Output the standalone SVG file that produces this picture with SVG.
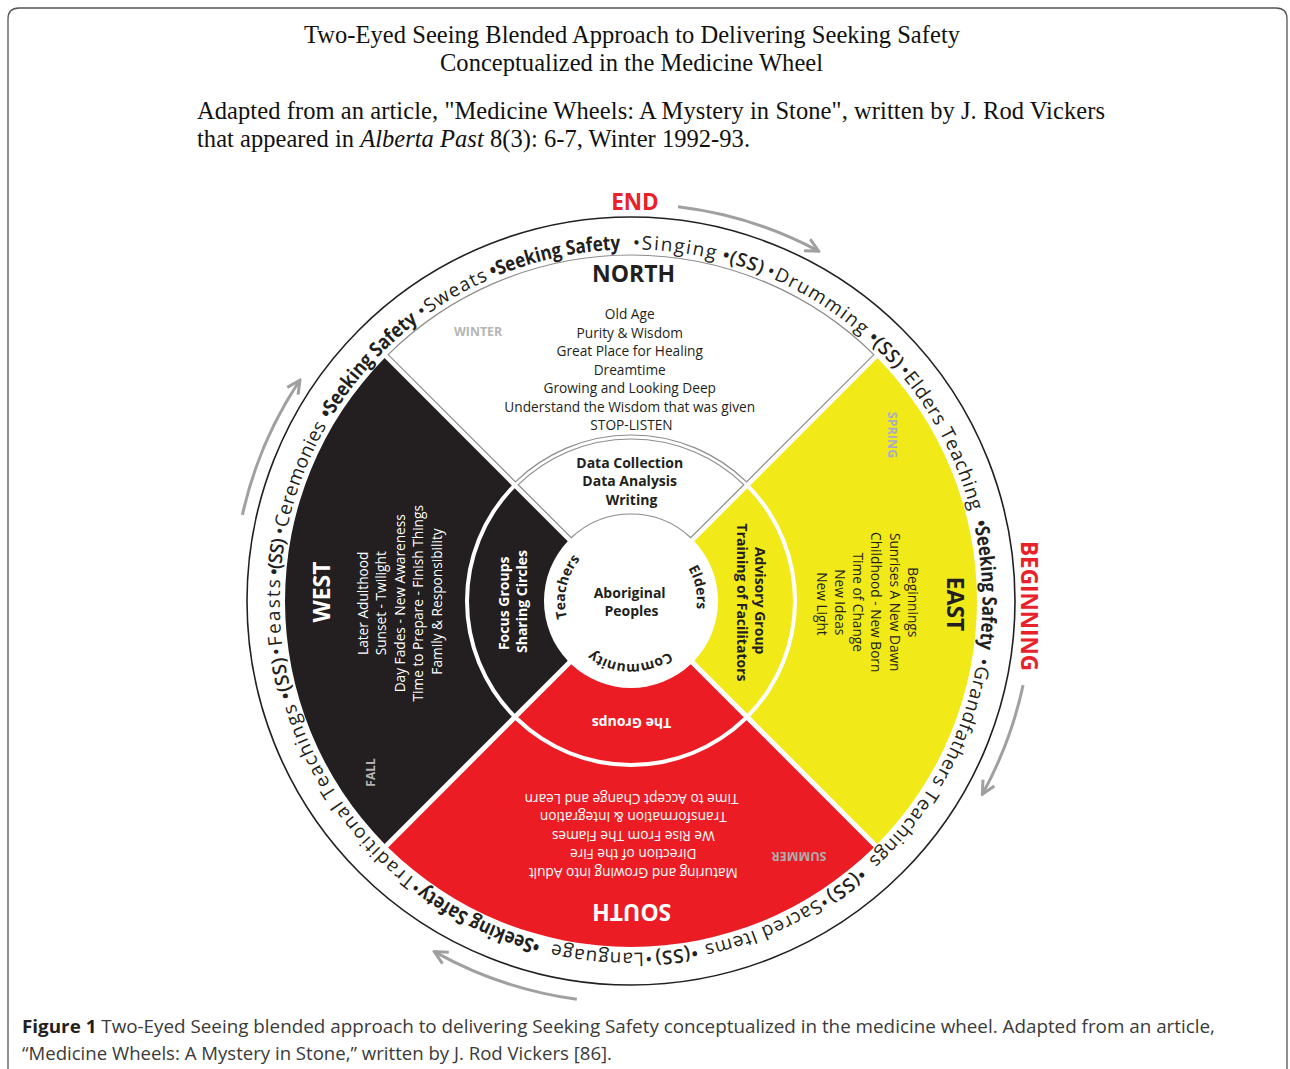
<svg xmlns="http://www.w3.org/2000/svg" width="1290" height="1069" viewBox="0 0 1290 1069">
<style>
.serif{font-family:"Liberation Serif","Times New Roman",serif;font-size:24.5px;fill:#111}
.sans{font-family:"Open Sans","Noto Sans",sans-serif}
.ring{font-family:"Open Sans","Noto Sans",sans-serif;font-size:19px;fill:#231f20}
.rb{font-weight:700;font-size:20px}
.ss{font-weight:600}
.q{font-family:"Open Sans","Noto Sans",sans-serif;font-size:13.7px;text-anchor:middle}
.qt{font-family:"Open Sans","Noto Sans",sans-serif;font-size:23px;font-weight:700;text-anchor:middle}
.mid{font-family:"Open Sans","Noto Sans",sans-serif;font-size:14px;font-weight:700;text-anchor:middle}
.season{font-family:"Open Sans","Noto Sans",sans-serif;font-size:13px;font-weight:700;text-anchor:middle}
.gl{stroke:#8c8c8c;stroke-width:1.2}
.arr{fill:none;stroke:#a0a0a0;stroke-width:3}
.red{font-family:"Open Sans","Noto Sans",sans-serif;font-size:22.5px;font-weight:700;fill:#e8222a;text-anchor:middle}
</style>
<defs>
<marker id="ah" viewBox="0 0 16 16" refX="14" refY="8" markerWidth="16" markerHeight="16" markerUnits="userSpaceOnUse" orient="auto">
<path d="M1 1.5 L14 8 L1 14.5" fill="none" stroke="#a0a0a0" stroke-width="3"/>
</marker>
<path id="rp" d="M 455 905.84 A 352 352 0 0 1 807 296.16 A 352 352 0 0 1 455 905.84 A 352 352 0 0 1 807 296.16" fill="none"/>
<path id="ip" d="M 697 601 A 66 66 0 0 1 565 601 A 66 66 0 0 1 697 601 A 66 66 0 0 1 565 601" fill="none"/>
<path id="cp" d="M 694 601 A 63 63 0 0 1 568 601 A 63 63 0 0 1 694 601" fill="none"/>
</defs>
<rect width="1290" height="1069" fill="#fff"/>
<g id="frame">
<path d="M 8 1075 V 19 Q 8 8 19 8 H 1276 Q 1287 8 1287 19 V 1075" fill="none" stroke="#555" stroke-width="1.3"/>
</g>
<g id="title">
<text class="serif" x="632" y="43" text-anchor="middle" textLength="656" lengthAdjust="spacing">Two-Eyed Seeing Blended Approach to Delivering Seeking Safety</text>
<text class="serif" x="631.5" y="71" text-anchor="middle" textLength="383" lengthAdjust="spacing">Conceptualized in the Medicine Wheel</text>
<text class="serif" x="197" y="119" textLength="908" lengthAdjust="spacing">Adapted from an article, "Medicine Wheels: A Mystery in Stone", written by J. Rod Vickers</text>
<text class="serif" x="197" y="147" textLength="553" lengthAdjust="spacing">that appeared in <tspan font-style="italic">Alberta Past</tspan> 8(3): 6-7, Winter 1992-93.</text>
</g>
<g id="ring">
<circle cx="631" cy="601" r="384" fill="#fff" stroke="#231f20" stroke-width="1.6"/>
<text class="ring"><textPath href="#rp" startOffset="38.7" textLength="225.5" lengthAdjust="spacing">•Traditional Teachings</textPath></text>
<text class="ring ss"><textPath href="#rp" startOffset="270.3" textLength="41.8" lengthAdjust="spacing">•(SS)</textPath></text>
<text class="ring"><textPath href="#rp" startOffset="314.6" textLength="75" lengthAdjust="spacing">•Feasts</textPath></text>
<text class="ring ss"><textPath href="#rp" startOffset="393.2" textLength="36.9" lengthAdjust="spacing">•(SS)</textPath></text>
<text class="ring"><textPath href="#rp" startOffset="433.7" textLength="118" lengthAdjust="spacing">•Ceremonies</textPath></text>
<text class="ring rb"><textPath href="#rp" startOffset="558.5" textLength="132.7" lengthAdjust="spacingAndGlyphs">•Seeking Safety</textPath></text>
<text class="ring"><textPath href="#rp" startOffset="696.7" textLength="76.2" lengthAdjust="spacing">•Sweats</textPath></text>
<text class="ring rb"><textPath href="#rp" startOffset="777.8" textLength="131.5" lengthAdjust="spacingAndGlyphs">•Seeking Safety</textPath></text>
<text class="ring"><textPath href="#rp" startOffset="921.5" textLength="82.9" lengthAdjust="spacing">•Singing</textPath></text>
<text class="ring ss"><textPath href="#rp" startOffset="1010.6" textLength="42.4" lengthAdjust="spacing">•(SS)</textPath></text>
<text class="ring"><textPath href="#rp" startOffset="1057.3" textLength="114.3" lengthAdjust="spacing">•Drumming</textPath></text>
<text class="ring ss"><textPath href="#rp" startOffset="1177.7" textLength="41.8" lengthAdjust="spacing">•(SS)</textPath></text>
<text class="ring"><textPath href="#rp" startOffset="1222.6" textLength="158.5" lengthAdjust="spacing">•Elders Teaching</textPath></text>
<text class="ring rb"><textPath href="#rp" startOffset="1392.1" textLength="127.8" lengthAdjust="spacingAndGlyphs">•Seeking Safety</textPath></text>
<text class="ring"><textPath href="#rp" startOffset="1528.5" textLength="234.7" lengthAdjust="spacing">•Grandfathers Teachings</textPath></text>
<text class="ring ss"><textPath href="#rp" startOffset="1774.3" textLength="43" lengthAdjust="spacing">•(SS)</textPath></text>
<text class="ring"><textPath href="#rp" startOffset="1819.7" textLength="130.2" lengthAdjust="spacing">•Sacred Items</textPath></text>
<text class="ring ss"><textPath href="#rp" startOffset="1957.4" textLength="42.4" lengthAdjust="spacing">•(SS)</textPath></text>
<text class="ring"><textPath href="#rp" startOffset="2002.8" textLength="100.1" lengthAdjust="spacing">•Language</textPath></text>
<text class="ring rb"><textPath href="#rp" startOffset="2114.6" textLength="130.9" lengthAdjust="spacingAndGlyphs">•Seeking Safety</textPath></text>
</g>
<g id="north">
<path class="gl" fill="#fff" d="M 388.12 354.58 A 346 346 0 0 1 873.88 354.58 L 746.60 481.86 A 166 166 0 0 0 515.40 481.86 Z"/>
<path class="gl" fill="#fff" d="M 518.23 484.69 A 162 162 0 0 1 743.77 484.69 L 690.73 537.74 A 87 87 0 0 0 571.27 537.74 Z"/>
<text class="qt" x="633.5" y="281.7" fill="#231f20">NORTH</text>
<text class="q" fill="#231f20">
<tspan x="631.5" y="319">Old Age</tspan>
<tspan x="631.5" y="337.5">Purity &amp; Wisdom</tspan>
<tspan x="631.5" y="356">Great Place for Healing</tspan>
<tspan x="631.5" y="374.5">Dreamtime</tspan>
<tspan x="631.5" y="393">Growing and Looking Deep</tspan>
<tspan x="631.5" y="411.5">Understand the Wisdom that was given</tspan>
<tspan x="631.5" y="430">STOP-LISTEN</tspan>
</text>
<text class="season" x="478" y="335.5" fill="#b5b5b5" textLength="48" lengthAdjust="spacingAndGlyphs">WINTER</text>
<text class="mid" fill="#231f20">
<tspan x="631.5" y="467.5">Data Collection</tspan>
<tspan x="631.5" y="486">Data Analysis</tspan>
<tspan x="631.5" y="504.5">Writing</tspan>
</text>
</g>
<g id="east">
<path fill="#f1ea18" d="M 877.42 358.12 A 346 346 0 0 1 877.42 843.88 L 750.14 716.60 A 166 166 0 0 0 750.14 485.40 Z"/>
<path fill="#f1ea18" d="M 747.31 488.23 A 162 162 0 0 1 747.31 713.77 L 694.26 660.73 A 87 87 0 0 0 694.26 541.27 Z"/>
<text class="qt" transform="translate(946.7 604) rotate(90)" fill="#231f20">EAST</text>
<text class="q" transform="translate(908 604) rotate(90)" fill="#231f20">
<tspan x="0" y="0">Beginnings</tspan>
<tspan x="0" y="18.3">Sunrises A New Dawn</tspan>
<tspan x="0" y="36.6">Childhood - New Born</tspan>
<tspan x="0" y="54.9">Time of Change</tspan>
<tspan x="0" y="73.2">New Ideas</tspan>
<tspan x="0" y="91.5">New Light</tspan>
</text>
<text class="season" transform="translate(887.5 435) rotate(90)" fill="#a9adc3" textLength="46.6" lengthAdjust="spacingAndGlyphs">SPRING</text>
<text class="mid" transform="translate(755 602.5) rotate(90)" fill="#231f20">
<tspan x="0" y="0">Advisory Group</tspan>
<tspan x="0" y="18">Training of Facilitators</tspan>
</text>
</g>
<g id="south">
<path fill="#ec1c24" d="M 873.88 847.42 A 346 346 0 0 1 388.12 847.42 L 515.40 720.14 A 166 166 0 0 0 746.60 720.14 Z"/>
<path fill="#ec1c24" d="M 743.77 717.31 A 162 162 0 0 1 518.23 717.31 L 571.27 664.26 A 87 87 0 0 0 690.73 664.26 Z"/>
<text class="qt" transform="translate(631.7 904) rotate(180)" fill="#fff">SOUTH</text>
<text class="q" transform="translate(631.5 867.5) rotate(180)" fill="#fff">
<tspan x="0" y="0">Maturing and Growing into Adult</tspan>
<tspan x="0" y="18.5">Direction of the Fire</tspan>
<tspan x="0" y="37">We Rise From The Flames</tspan>
<tspan x="0" y="55.5">Transformation &amp; Integration</tspan>
<tspan x="0" y="74">Time to Accept Change and Learn</tspan>
</text>
<text class="season" transform="translate(799 851.7) rotate(180)" fill="#adadad" textLength="55" lengthAdjust="spacingAndGlyphs">SUMMER</text>
<text class="mid" transform="translate(631.5 718) rotate(180)" fill="#fff">The Groups</text>
</g>
<g id="west">
<path fill="#231f20" d="M 384.58 843.88 A 346 346 0 0 1 384.58 358.12 L 511.86 485.40 A 166 166 0 0 0 511.86 716.60 Z"/>
<path fill="#231f20" d="M 514.69 713.77 A 162 162 0 0 1 514.69 488.23 L 567.74 541.27 A 87 87 0 0 0 567.74 660.73 Z"/>
<text class="qt" transform="translate(330 592) rotate(-90)" fill="#fff">WEST</text>
<text class="q" transform="translate(368 601.5) rotate(-90)" fill="#fff">
<tspan x="0" y="0">Later Adulthood</tspan>
<tspan x="0" y="18.4">Sunset - Twilight</tspan>
<tspan x="0" y="36.8">Day Fades - New Awareness</tspan>
<tspan x="0" y="55.2">Time to Prepare - Finish Things</tspan>
<tspan x="0" y="73.6">Family &amp; Responsibility</tspan>
</text>
<text class="season" transform="translate(375 772.5) rotate(-90)" fill="#b3b3b3" textLength="28.4" lengthAdjust="spacingAndGlyphs">FALL</text>
<text class="mid" transform="translate(508.5 601.5) rotate(-90)" fill="#fff">
<tspan x="0" y="0">Focus Groups</tspan>
<tspan x="0" y="18">Sharing Circles</tspan>
</text>
</g>
<g id="center">
<text class="mid" fill="#231f20">
<tspan x="631.5" y="598">Aboriginal</tspan>
<tspan x="631.5" y="616">Peoples</tspan>
</text>
<text class="mid" fill="#231f20"><textPath href="#ip" startOffset="221.2">Teachers</textPath></text>
<text class="mid" fill="#231f20"><textPath href="#ip" startOffset="400.9">Elders</textPath></text>
<text class="mid" fill="#231f20"><textPath href="#cp" startOffset="99.5">Community</textPath></text>
</g>
<g id="connectors">
<path class="arr" marker-end="url(#ah)" d="M 678.0 206.8 A 397 397 0 0 1 818.6 251.1"/>
<path class="arr" marker-end="url(#ah)" d="M 1023.1 685.1 A 401 401 0 0 1 982.4 794.2"/>
<path class="arr" marker-end="url(#ah)" d="M 576.8 999.3 A 402 402 0 0 1 434.3 951.6"/>
<path class="arr" marker-end="url(#ah)" d="M 242.4 514.9 A 398 398 0 0 1 299.9 380.2"/>
</g>
<g id="labels">
<text class="red" x="635" y="210">END</text>
<text class="red" transform="translate(1021 606) rotate(90)">BEGINNING</text>
</g>
<g id="caption">
<text class="sans" x="22" y="1033" font-size="18.5" fill="#3a3a3a" textLength="1193" lengthAdjust="spacingAndGlyphs"><tspan font-weight="700" fill="#231f20">Figure 1</tspan> Two-Eyed Seeing blended approach to delivering Seeking Safety conceptualized in the medicine wheel. Adapted from an article,</text>
<text class="sans" x="22" y="1060" font-size="18.5" fill="#3a3a3a" textLength="590" lengthAdjust="spacingAndGlyphs">“Medicine Wheels: A Mystery in Stone,” written by J. Rod Vickers [86].</text>
</g>
</svg>
